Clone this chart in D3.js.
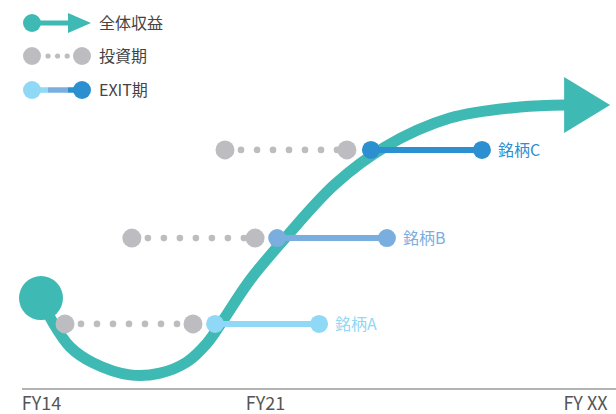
<!DOCTYPE html>
<html>
<head>
<meta charset="utf-8">
<script src="https://cdn.jsdelivr.net/npm/d3@7"></script>
<style>
  body { margin: 0; background: #fff; }
  svg { display: block; font-family: "Noto Sans CJK JP", "Noto Sans", sans-serif; }
</style>
</head>
<body>
<svg></svg>
<script>
const width = 616;
const height = 414;

// axis ticks (fiscal years)
const tickYears = [14, 21, 31];
const tickLabels = ['FY14', 'FY21', 'FY XX'];

// overall return curve
const curveYears = [14, 14.38, 14.91, 15.63, 16.78, 17.72, 18.56, 19.19, 19.59, 20.53, 21.63, 23.19, 24.75, 26.78, 28.97, 30.41];
const curveValues = [30.3, 22, 14, 8.7, 4.7, 5.3, 9, 15.3, 21.3, 36.3, 50.3, 68.3, 80.7, 90.3, 94, 94.7];

// holdings
const stocks = ['銘柄A', '銘柄B', '銘柄C'];
const stockLevels = [21.7, 50.3, 79.7];
const investStart = [14.75, 16.84, 19.75];
const investEnd = [18.75, 20.69, 23.56];
const exitStart = [19.44, 21.38, 24.31];
const exitEnd = [22.69, 24.81, 27.78];
const stockColors = ['#8fd8f6', '#7aaedf', '#2b8fd0'];

const legendLabels = ['全体収益', '投資期', 'EXIT期'];

const teal = '#3fb9b3';
const gray = '#bdbdc1';

const svg = d3.select('svg')
  .attr('width', width)
  .attr('height', height);

const xScale = d3.scaleLinear()
  .domain([14, 31])
  .range([41, 585]);

const yScale = d3.scaleLinear()
  .domain([0, 100])
  .range([389, 89]);

// baseline + ticks
svg.append('line')
  .attr('x1', 22)
  .attr('x2', width)
  .attr('y1', yScale(0))
  .attr('y2', yScale(0))
  .attr('stroke', '#9a9a9a')
  .attr('stroke-width', 1.6);

const xAxis = d3.axisBottom(xScale)
  .tickValues(tickYears)
  .tickFormat((d, i) => tickLabels[i])
  .tickSize(0)
  .tickPadding(8);

const axisG = svg.append('g')
  .attr('transform', `translate(0, ${yScale(0)})`)
  .call(xAxis);
axisG.select('.domain').remove();
axisG.selectAll('text')
  .attr('fill', '#555')
  .style('font-size', '18px')
  .style('font-family', '"Noto Sans CJK JP", sans-serif');

// curve
const curvePts = curveYears.map((d, i) => [xScale(d), yScale(curveValues[i])]);
const line = d3.line().curve(d3.curveCatmullRom.alpha(0.5));

svg.append('path')
  .attr('d', line(curvePts))
  .attr('fill', 'none')
  .attr('stroke', teal)
  .attr('stroke-width', 11)
  .attr('stroke-linecap', 'round');

const [ex, ey] = curvePts[curvePts.length - 1];
svg.append('path')
  .attr('d', `M${ex - 2},${ey - 28} L${ex + 44},${ey} L${ex - 2},${ey + 28} Z`)
  .attr('fill', teal);

svg.append('circle')
  .attr('cx', curvePts[0][0])
  .attr('cy', curvePts[0][1])
  .attr('r', 22)
  .attr('fill', teal);

// holding rows
stocks.forEach((name, i) => {
  const y = yScale(stockLevels[i]);
  const g = svg.append('g');

  g.append('line')
    .attr('x1', xScale(investStart[i]))
    .attr('x2', xScale(investEnd[i]))
    .attr('y1', y).attr('y2', y)
    .attr('stroke', gray)
    .attr('stroke-width', 6.6)
    .attr('stroke-linecap', 'round')
    .attr('stroke-dasharray', '0 16');

  [investStart[i], investEnd[i]].forEach(v => {
    g.append('circle')
      .attr('cx', xScale(v)).attr('cy', y)
      .attr('r', 9.5)
      .attr('fill', gray);
  });

  g.append('line')
    .attr('x1', xScale(exitStart[i]))
    .attr('x2', xScale(exitEnd[i]))
    .attr('y1', y).attr('y2', y)
    .attr('stroke', stockColors[i])
    .attr('stroke-width', 6);

  [exitStart[i], exitEnd[i]].forEach(v => {
    g.append('circle')
      .attr('cx', xScale(v)).attr('cy', y)
      .attr('r', 9)
      .attr('fill', stockColors[i]);
  });

  g.append('text')
    .attr('x', xScale(exitEnd[i]) + 16)
    .attr('y', y)
    .attr('dy', '0.35em')
    .attr('fill', stockColors[i])
    .style('font-size', '16px')
    .text(name);
});

// legend
const legend = svg.append('g');
const rowY = [23, 56, 90];

// row 1: total return
legend.append('line')
  .attr('x1', 32).attr('x2', 70)
  .attr('y1', rowY[0]).attr('y2', rowY[0])
  .attr('stroke', teal).attr('stroke-width', 5);
legend.append('circle')
  .attr('cx', 32).attr('cy', rowY[0]).attr('r', 9).attr('fill', teal);
legend.append('path')
  .attr('d', `M68,${rowY[0] - 10} L91,${rowY[0]} L68,${rowY[0] + 10} Z`)
  .attr('fill', teal);

// row 2: investment period
legend.append('line')
  .attr('x1', 48).attr('x2', 68)
  .attr('y1', rowY[1]).attr('y2', rowY[1])
  .attr('stroke', gray).attr('stroke-width', 5.2)
  .attr('stroke-linecap', 'round')
  .attr('stroke-dasharray', '0 9.6');
[32, 82].forEach(cx => {
  legend.append('circle')
    .attr('cx', cx).attr('cy', rowY[1]).attr('r', 9).attr('fill', gray);
});

// row 3: exit period
[[32, 48, stockColors[0]], [48, 68, stockColors[1]], [68, 82, stockColors[2]]].forEach(([a, b, c]) => {
  legend.append('line')
    .attr('x1', a).attr('x2', b)
    .attr('y1', rowY[2]).attr('y2', rowY[2])
    .attr('stroke', c).attr('stroke-width', 5.5);
});
legend.append('circle')
  .attr('cx', 32).attr('cy', rowY[2]).attr('r', 9).attr('fill', stockColors[0]);
legend.append('circle')
  .attr('cx', 82).attr('cy', rowY[2]).attr('r', 9).attr('fill', stockColors[2]);

legend.selectAll('text.lg')
  .data(legendLabels)
  .join('text')
  .attr('class', 'lg')
  .attr('x', 99)
  .attr('y', (d, i) => rowY[i])
  .attr('dy', '0.35em')
  .attr('fill', '#444')
  .style('font-size', '16px')
  .text(d => d);
</script>
</body>
</html>
